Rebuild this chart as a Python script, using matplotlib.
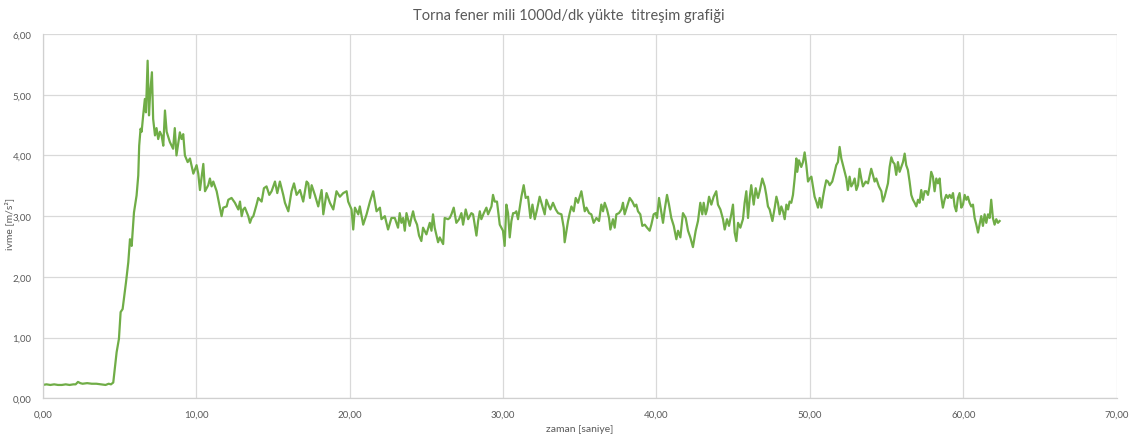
import matplotlib
matplotlib.use("Agg")
import matplotlib.pyplot as plt
from matplotlib.ticker import FuncFormatter, MultipleLocator

# ---- data ----
t_idle = [0.0, 0.25, 0.5, 0.75, 1.0, 1.25, 1.5, 1.75, 2.0, 2.15, 2.3, 2.45, 2.6, 2.9, 3.2, 3.5, 3.8, 4.1, 4.3, 4.45]
a_idle = [0.22, 0.23, 0.22, 0.23, 0.22, 0.22, 0.23, 0.22, 0.23, 0.23, 0.27, 0.25, 0.24, 0.25, 0.24, 0.24, 0.23, 0.22, 0.24, 0.23]

t_rise = [4.6, 4.82, 4.97, 5.08, 5.21, 5.43, 5.58, 5.69, 5.8, 5.86, 5.95, 6.12, 6.23, 6.29, 6.38,
          6.45, 6.55, 6.66, 6.73, 6.84, 6.93, 7.0, 7.12, 7.2, 7.32, 7.42, 7.53, 7.64, 7.75, 7.86,
          7.97, 8.08, 8.29, 8.5, 8.61, 8.72, 8.94, 9.05, 9.16, 9.27, 9.45]
a_rise = [0.26, 0.76, 0.98, 1.42, 1.47, 1.91, 2.24, 2.62, 2.51, 2.73, 3.06, 3.34, 3.67, 4.16, 4.44,
          4.39, 4.66, 4.93, 4.71, 5.56, 4.66, 5.0, 5.37, 4.6, 4.33, 4.45, 4.27, 4.39, 4.33, 4.16,
          4.74, 4.39, 4.22, 4.11, 4.45, 4.0, 4.38, 4.27, 4.35, 4.0, 3.89]

t_s1 = [9.60, 9.82, 10.03, 10.14, 10.25, 10.47, 10.58, 10.79, 10.90, 11.01, 11.12, 11.34, 11.55, 11.66,
        11.77, 11.99, 12.10, 12.31, 12.53, 12.75, 12.86, 12.97, 13.07, 13.18, 13.40, 13.51, 13.62,
        13.73, 13.94, 14.05, 14.27, 14.42, 14.59, 14.77, 14.92, 15.14, 15.29, 15.46, 15.68, 15.79,
        16.01, 16.22, 16.38, 16.55, 16.77, 16.98, 17.20, 17.31, 17.42, 17.53, 17.74, 17.96, 18.18,
        18.29, 18.50, 18.72, 18.94, 19.15, 19.37, 19.59, 19.81, 19.91, 20.13, 20.24, 20.35, 20.57,
        20.67, 20.89, 21.11, 21.33, 21.54, 21.76, 21.98]
a_s1 = [3.95, 3.70, 3.84, 3.70, 3.43, 3.86, 3.41, 3.51, 3.62, 3.49, 3.57, 3.41, 3.14, 3.00,
        3.14, 3.16, 3.27, 3.30, 3.22, 3.11, 3.24, 3.00, 3.11, 3.14, 3.00, 2.89, 2.97,
        3.00, 3.19, 3.30, 3.24, 3.46, 3.49, 3.35, 3.41, 3.57, 3.38, 3.57, 3.35, 3.22,
        3.08, 3.41, 3.54, 3.35, 3.43, 3.24, 3.57, 3.54, 3.30, 3.51, 3.35, 3.16, 3.43,
        3.03, 3.38, 3.22, 3.11, 3.41, 3.32, 3.38, 3.41, 3.24, 3.11, 2.78, 3.14, 3.03,
        3.16, 2.86, 3.03, 3.24, 3.41, 3.08, 3.14]

t_s2 = [22.08, 22.30, 22.51, 22.73, 22.95, 23.16, 23.27, 23.38, 23.49, 23.60, 23.71, 23.92, 24.03,
        24.14, 24.25, 24.40, 24.53, 24.68, 24.79, 25.01, 25.23, 25.34, 25.44, 25.55, 25.77, 25.88,
        26.10, 26.20, 26.42, 26.53, 26.64, 26.79, 26.96, 27.14, 27.29, 27.40, 27.57, 27.73, 27.94,
        28.05, 28.27, 28.38, 28.49, 28.59, 28.75, 28.92, 29.03, 29.25, 29.35, 29.46, 29.61, 29.79,
        30.00, 30.11, 30.22, 30.33, 30.44, 30.55, 30.66, 30.76, 30.87, 30.98, 31.20, 31.35, 31.48,
        31.63, 31.79, 31.92, 32.07, 32.22, 32.39, 32.57, 32.72, 32.83, 33.00, 33.09, 33.26, 33.44,
        33.59, 33.81, 33.96, 34.02, 34.24]
a_s2 = [2.95, 3.00, 2.78, 2.97, 2.97, 2.81, 3.05, 2.89, 2.97, 2.76, 3.05, 2.84, 2.97,
        3.08, 2.95, 2.86, 2.68, 2.59, 2.81, 2.70, 2.89, 2.76, 3.03, 2.81, 2.57, 2.65,
        2.54, 2.97, 2.95, 2.97, 3.03, 3.14, 2.89, 2.95, 3.05, 2.86, 3.11, 2.95, 3.05,
        3.03, 2.68, 2.92, 3.08, 2.95, 3.05, 3.14, 3.03, 3.16, 3.35, 3.24, 3.24, 2.86,
        2.76, 2.51, 3.19, 3.05, 2.65, 2.92, 3.05, 3.05, 3.08, 2.95, 3.32, 3.51, 3.30,
        3.32, 2.97, 3.19, 2.95, 3.11, 3.32, 3.16, 3.03, 3.27, 3.16, 3.11, 3.22, 3.11,
        3.05, 3.03, 2.81, 2.57, 2.92]

t_s3 = [34.35, 34.46, 34.61, 34.74, 34.89, 35.00, 35.11, 35.22, 35.33, 35.44, 35.61, 35.76, 35.91,
        36.09, 36.26, 36.41, 36.52, 36.63, 36.78, 36.91, 37.00, 37.17, 37.28, 37.39, 37.56, 37.72,
        37.82, 37.93, 38.09, 38.26, 38.43, 38.58, 38.69, 38.80, 38.95, 39.08, 39.24, 39.39, 39.56,
        39.67, 39.82, 39.95, 40.04, 40.17, 40.26, 40.43, 40.54, 40.69, 40.82, 40.97, 41.13, 41.30,
        41.41, 41.56, 41.73, 41.91, 42.06, 42.21, 42.38, 42.56, 42.71, 42.86, 42.99, 43.08, 43.21,
        43.30, 43.43, 43.58, 43.73, 43.90, 44.01, 44.17, 44.34, 44.45, 44.60, 44.73, 44.88, 44.99,
        45.10, 45.21, 45.32, 45.47, 45.64, 45.75, 45.86, 45.97, 46.08, 46.18, 46.34, 46.47, 46.62]
a_s3 = [3.05, 3.16, 3.08, 3.30, 3.22, 3.32, 3.41, 3.24, 3.08, 3.14, 3.05, 3.03, 2.89,
        2.97, 2.92, 3.19, 3.08, 3.22, 3.11, 2.97, 2.78, 2.95, 2.81, 3.03, 3.05, 3.11,
        3.22, 3.03, 3.16, 3.30, 3.24, 3.16, 3.19, 3.08, 3.03, 2.84, 2.86, 2.81, 2.76,
        2.86, 3.03, 3.05, 2.97, 3.30, 3.16, 2.89, 3.11, 3.35, 3.19, 2.97, 2.84, 2.62,
        2.76, 2.65, 3.05, 2.97, 2.76, 2.65, 2.49, 2.76, 2.92, 3.22, 3.03, 3.22, 3.03,
        3.11, 3.32, 3.19, 3.32, 3.41, 3.19, 3.11, 2.95, 2.78, 2.95, 2.84, 3.03, 3.19,
        2.73, 2.59, 2.89, 2.81, 2.95, 3.22, 3.41, 2.97, 3.30, 3.51, 3.19, 3.46, 3.30]

t_s4 = [46.73, 46.90, 47.06, 47.16, 47.27, 47.38, 47.56, 47.71, 47.82, 47.92, 48.03, 48.14, 48.25,
        48.36, 48.47, 48.58, 48.68, 48.79, 48.90, 49.01, 49.12, 49.18, 49.29, 49.44, 49.55, 49.66,
        49.77, 49.88, 49.99, 50.10, 50.20, 50.31, 50.42, 50.53, 50.64, 50.75, 50.86, 50.96, 51.07,
        51.18, 51.29, 51.46, 51.62, 51.72, 51.83, 51.94, 52.05, 52.16, 52.27, 52.38, 52.48, 52.59,
        52.70, 52.81, 52.92, 53.03, 53.14, 53.24, 53.35, 53.46, 53.64, 53.79, 54.00, 54.11, 54.22,
        54.33, 54.50, 54.66, 54.76, 54.87, 54.98, 55.09, 55.20, 55.31, 55.42, 55.52, 55.63, 55.74,
        55.85, 55.96, 56.07, 56.18, 56.28, 56.39, 56.50, 56.61, 56.72, 56.83, 56.94, 57.05, 57.15,
        57.26, 57.37, 57.48, 57.59, 57.70, 57.80, 57.91, 58.02, 58.13, 58.24, 58.35, 58.46, 58.56,
        58.67, 58.78, 58.89, 59.00]
a_s4 = [3.41, 3.62, 3.49, 3.35, 3.16, 3.11, 2.92, 3.14, 3.32, 3.22, 3.03, 3.16, 3.08,
        2.95, 3.19, 3.11, 3.24, 3.22, 3.35, 3.62, 3.95, 3.73, 3.92, 3.81, 3.89, 4.05,
        3.84, 3.57, 3.62, 3.65, 3.49, 3.32, 3.24, 3.14, 3.30, 3.14, 3.32, 3.46, 3.59,
        3.57, 3.51, 3.57, 3.73, 3.84, 3.89, 4.14, 3.95, 3.84, 3.73, 3.62, 3.43, 3.65,
        3.49, 3.54, 3.62, 3.43, 3.51, 3.78, 3.62, 3.49, 3.57, 3.54, 3.78, 3.68, 3.57,
        3.62, 3.49, 3.41, 3.24, 3.32, 3.43, 3.54, 3.81, 3.97, 3.89, 3.86, 3.68, 3.89,
        3.73, 3.81, 3.89, 4.03, 3.84, 3.76, 3.57, 3.35, 3.27, 3.22, 3.16, 3.27, 3.22,
        3.43, 3.27, 3.41, 3.41, 3.35, 3.49, 3.73, 3.65, 3.41, 3.62, 3.54, 3.62, 3.32,
        3.14, 3.27, 3.35, 3.30]

t_s5 = [59.11, 59.22, 59.33, 59.44, 59.54, 59.65, 59.76, 59.87, 59.98, 60.09, 60.20, 60.30, 60.41,
        60.52, 60.63, 60.74, 60.85, 60.96, 61.06, 61.17, 61.28, 61.39, 61.50, 61.61, 61.72, 61.82,
        61.93, 62.04, 62.15, 62.26, 62.37]
a_s5 = [3.35, 3.30, 3.38, 3.16, 3.08, 3.30, 3.38, 3.14, 3.19, 3.35, 3.27, 3.32, 3.22,
        3.16, 3.19, 2.97, 2.86, 2.73, 2.86, 3.00, 2.84, 3.03, 2.89, 3.03, 2.97, 3.27,
        2.97, 2.86, 2.95, 2.89, 2.92]

time = t_idle + t_rise + t_s1 + t_s2 + t_s3 + t_s4 + t_s5
accel = a_idle + a_rise + a_s1 + a_s2 + a_s3 + a_s4 + a_s5

title = "Torna fener mili 1000d/dk yükte  titreşim grafiği"
xlabel = "zaman [saniye]"
ylabel = "ivme [m/s²]"

# ---- drawing ----
plt.rcParams['font.family'] = ['Lato', 'DejaVu Sans']
text_color = '#595959'

fig = plt.figure(figsize=(11.38, 4.39), dpi=100)
ax = fig.add_axes([0.0375, 0.0904, 0.9438, 0.8299])

ax.plot(time, accel, color='#70AD47', linewidth=1.6, solid_joinstyle='round')

ax.set_xlim(0, 70)
ax.set_ylim(0, 6)
ax.xaxis.set_major_locator(MultipleLocator(10))
ax.yaxis.set_major_locator(MultipleLocator(1))
fmt = FuncFormatter(lambda v, p: f"{v:.2f}".replace('.', ','))
ax.xaxis.set_major_formatter(fmt)
ax.yaxis.set_major_formatter(fmt)

ax.grid(True, color='#D9D9D9', linewidth=0.9)
ax.set_axisbelow(True)
for side in ['top', 'right']:
    ax.spines[side].set_visible(False)
for side in ['left', 'bottom']:
    ax.spines[side].set_color('#D0D0D0')
    ax.spines[side].set_linewidth(0.9)
ax.tick_params(length=0, labelsize=7, colors=text_color, pad=8)

fig.text(0.5, 0.963, title, ha='center', va='center', fontsize=10.5, color=text_color)
fig.text(0.509, 0.022, xlabel, ha='center', va='center', fontsize=7.5, color=text_color)
fig.text(0.008, 0.49, ylabel, ha='center', va='center', rotation=90, fontsize=7.5, color=text_color)

fig.savefig('out.png', dpi=100, facecolor='white')
